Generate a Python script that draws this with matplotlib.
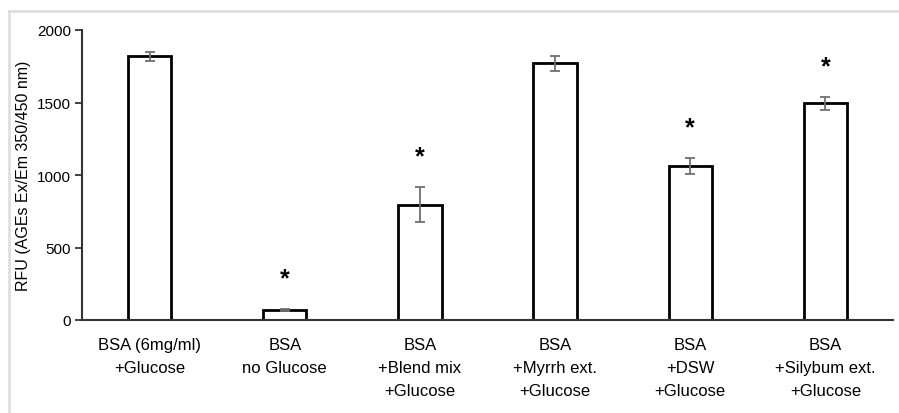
import matplotlib
matplotlib.use("Agg")
import matplotlib.pyplot as plt
from matplotlib.lines import Line2D
import numpy as np

plt.rcParams['font.family'] = ['Liberation Sans', 'DejaVu Sans']

# data
labels = ["BSA (6mg/ml)\n+Glucose", "BSA\nno Glucose", "BSA\n+Blend mix\n+Glucose",
          "BSA\n+Myrrh ext.\n+Glucose", "BSA\n+DSW\n+Glucose", "BSA\n+Silybum ext.\n+Glucose"]
values = [1818, 71, 795, 1772, 1064, 1494]
errors = [33, 6, 122, 52, 56, 47]
signif = [False, True, True, False, True, True]

fig = plt.figure(figsize=(8.99, 4.14), dpi=100)
ax = fig.add_axes([82/899, 93/414, (893-82)/899, (321-31)/414])

x = np.arange(len(values))
ax.bar(x, values, width=0.32, color='white', edgecolor='black', linewidth=2, zorder=2)
ax.errorbar(x, values, yerr=errors, fmt='none', ecolor='#707070', elinewidth=1.3,
            capsize=3.5, capthick=1.3, zorder=3)

# asterisks above the error bars
for xi, v, e, s in zip(x, values, errors, signif):
    if s:
        ax.annotate("*", (xi, v + e), xytext=(0, 22), textcoords='offset points',
                    ha='center', va='center', fontsize=18, fontweight='bold')

ax.set_xlim(-0.5, len(values) - 0.5)
ax.set_ylim(0, 2000)
ax.set_yticks([0, 500, 1000, 1500, 2000])
ax.set_xticks(x)
ax.set_xticklabels(labels, fontsize=12, linespacing=1.68)
ax.tick_params(axis='x', length=0, pad=12)
ax.tick_params(axis='y', length=5, width=1.3, color='#333333', labelsize=11, pad=3)
ax.set_ylabel("RFU (AGEs Ex/Em 350/450 nm)", fontsize=11.5, labelpad=4)

for side in ['top', 'right']:
    ax.spines[side].set_visible(False)
for side in ['left', 'bottom']:
    ax.spines[side].set_color('#333333')
    ax.spines[side].set_linewidth(1.5)

# light grey frame around the figure (top and left edges)
fig.add_artist(Line2D([8.5/899, 8.5/899], [0, 1 - 11.5/414], color='#dcdcdc', lw=1.8,
                      transform=fig.transFigure))
fig.add_artist(Line2D([8.5/899, 1], [1 - 11.5/414, 1 - 11.5/414], color='#dcdcdc', lw=1.8,
                      transform=fig.transFigure))

fig.savefig("out.png", dpi=100)
